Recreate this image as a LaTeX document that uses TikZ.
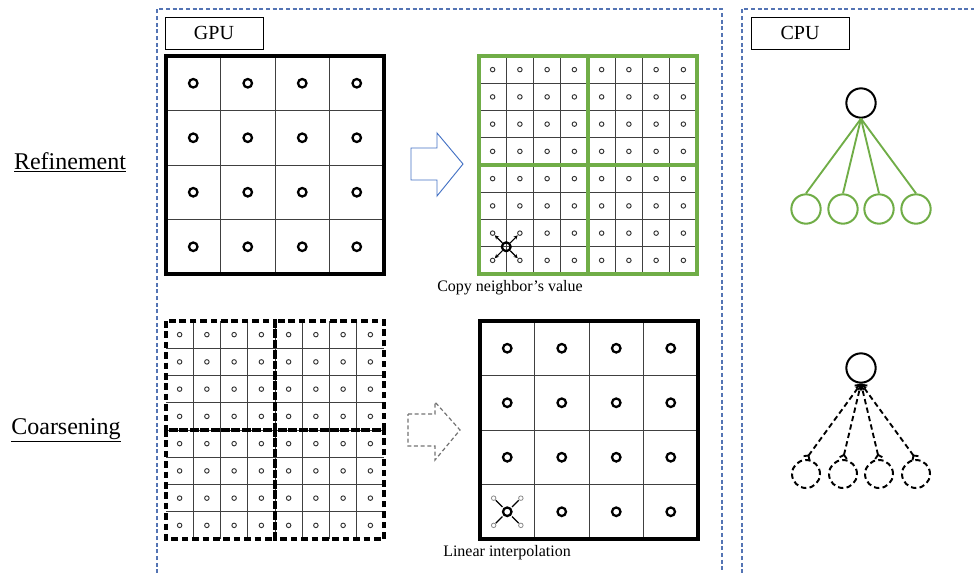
\documentclass[tikz,border=0pt]{standalone}
\usepackage{fontspec}
\setmainfont{Liberation Serif}
\usetikzlibrary{positioning,arrows.meta,calc}

\definecolor{panelblue}{RGB}{84,116,180}
\definecolor{arrowblue}{RGB}{68,114,196}
\definecolor{leafgreen}{RGB}{112,173,71}

\tikzset{
  panel/.style={draw=panelblue, line width=0.8pt, dash pattern=on 3pt off 2pt},
  tag/.style={draw, line width=0.7pt, minimum width=73.5pt, minimum height=24pt, inner sep=0pt, font=\fontsize{15}{18}\selectfont},
  rowlabel/.style={font=\fontsize{18}{21}\selectfont},
  caption/.style={font=\fontsize{12}{14}\selectfont},
  cellline/.style={draw=black!75, line width=0.7pt},
  frame/.style={draw=black, line width=2.7pt},
  greenblock/.style={draw=leafgreen, line width=2.6pt},
  dashblock/.style={draw=black, line width=2.7pt, dash pattern=on 5pt off 2.8pt},
  bigdot/.style={draw=black, line width=1.7pt},
  smalldot/.style={draw=black!80, line width=0.7pt},
  root/.style={circle, draw, line width=1.5pt, minimum size=22pt, inner sep=0pt},
  leaf/.style={circle, draw=leafgreen, line width=1.5pt, minimum size=22pt, inner sep=0pt},
  ghost/.style={circle, draw, line width=1.5pt, dash pattern=on 4pt off 2.5pt, minimum size=21pt, inner sep=0pt},
  branch/.style={draw=leafgreen, line width=1.4pt},
  merge/.style={draw, line width=1.4pt, dash pattern=on 4pt off 2.5pt, {Straight Barb[reversed,length=2.5pt,width=5.5pt]}-{Straight Barb[length=3pt,width=6pt]}}
}

\begin{document}
\begin{tikzpicture}[x=0.75pt, y=-0.75pt]
  \useasboundingbox (0,0) rectangle (974,572);

  % GPU and CPU panels
  \draw[panel] (157,580) -- (157,9) -- (722,9) -- (722,580);
  \draw[panel] (742,580) -- (742,9) -- (980,9);
  \node[tag] (gpu) at (214,33) {GPU};
  \node[tag] (cpu) at (800,33) {CPU};

  \node[rowlabel] (refine) at (70,162) {\underline{Refinement}};
  \node[rowlabel] (coarsen) at (66,430) {\underline{Coarsening}};

  % refinement: coarse grid
  \foreach \i in {1,2,3} {
    \draw[cellline] ({166+54.5*\i},56) -- ++(0,218);
    \draw[cellline] (166,{56+54.5*\i}) -- ++(218,0);
  }
  \draw[frame] (166,56) rectangle (384,274);
  \foreach \i in {0,...,3}
    \foreach \j in {0,...,3}
      \draw[bigdot] ({166+54.5*(\i+0.5)},{56+54.5*(\j+0.5)}) circle[radius=3.2pt];

  % block arrow
  \draw[arrowblue, line width=0.7pt] (411,148) -- (437,148) -- (437,133) -- (463,164)
    -- (437,196) -- (437,180) -- (411,180) -- cycle;

  % refinement: fine grid
  \foreach \i in {1,...,7} {
    \draw[cellline] ({479+27.25*\i},56) -- ++(0,218);
    \draw[cellline] (479,{56+27.25*\i}) -- ++(218,0);
  }
  \foreach \a in {0,1}
    \foreach \b in {0,1}
      \draw[greenblock] ({479+109*\a},{56+109*\b}) rectangle ++(109,109);
  \foreach \i in {0,...,7}
    \foreach \j in {0,...,7}
      \draw[smalldot] ({479+27.25*(\i+0.5)},{56+27.25*(\j+0.5)}) circle[radius=1.7pt];
  \draw[bigdot] (506.25,246.75) circle[radius=3.3pt];
  \foreach \dx/\dy in {-1/-1,1/-1,-1/1,1/1}
    \draw[line width=0.8pt, -{Stealth[length=3pt,width=3pt]}]
      ($(506.25,246.75)+(4*\dx,4*\dy)$) -- ($(506.25,246.75)+(11.4*\dx,11.4*\dy)$);
  \node[caption] (copy) at (510,288) {Copy neighbor’s value};

  % coarsening: fine grid
  \foreach \i in {1,...,7} {
    \draw[cellline] ({166+27.25*\i},321) -- ++(0,218);
    \draw[cellline] (166,{321+27.25*\i}) -- ++(218,0);
  }
  \foreach \a in {0,1}
    \foreach \b in {0,1}
      \draw[dashblock] ({166+109*\a},{321+109*\b}) rectangle ++(109,109);
  \foreach \i in {0,...,7}
    \foreach \j in {0,...,7}
      \draw[smalldot] ({166+27.25*(\i+0.5)},{321+27.25*(\j+0.5)}) circle[radius=1.7pt];

  % dashed block arrow
  \draw[black!55, line width=0.9pt, dash pattern=on 3pt off 2pt] (408,414) -- (435,414) -- (435,402) -- (460,430)
    -- (435,460) -- (435,446) -- (408,446) -- cycle;

  % coarsening: coarse grid
  \foreach \i in {1,2,3} {
    \draw[cellline] ({480+54.5*\i},321) -- ++(0,218);
    \draw[cellline] (480,{321+54.5*\i}) -- ++(218,0);
  }
  \draw[frame] (480,321) rectangle (698,539);
  \foreach \i in {0,...,3}
    \foreach \j in {0,...,3}
      \draw[bigdot] ({480+54.5*(\i+0.5)},{321+54.5*(\j+0.5)}) circle[radius=3.2pt];
  \foreach \dx/\dy in {-1/-1,1/-1,-1/1,1/1} {
    \draw[black!45, line width=0.6pt] ($(507.25,511.75)+(13.6*\dx,13.6*\dy)$) circle[radius=1.7pt];
    \draw[line width=0.9pt] ($(507.25,511.75)+(4.8*\dx,4.8*\dy)$) -- ($(507.25,511.75)+(11.4*\dx,11.4*\dy)$);
  }
  \node[caption] (interp) at (507,553) {Linear interpolation};

  % CPU: refinement tree
  \node[root] (top) at (861,103) {};
  \foreach \x [count=\k] in {806,843,879,916}
    \node[leaf] (kid\k) at (\x,209) {};
  \foreach \k in {1,...,4}
    \draw[branch] (top.south) -- (kid\k.north);

  % CPU: coarsening tree
  \node[root] (par) at (861,368) {};
  \foreach \x [count=\k] in {806,843,879,916}
    \node[ghost] (sub\k) at (\x,474) {};
  \foreach \k in {1,...,4}
    \draw[merge] (sub\k.north) -- (par.south);
\end{tikzpicture}
\end{document}
